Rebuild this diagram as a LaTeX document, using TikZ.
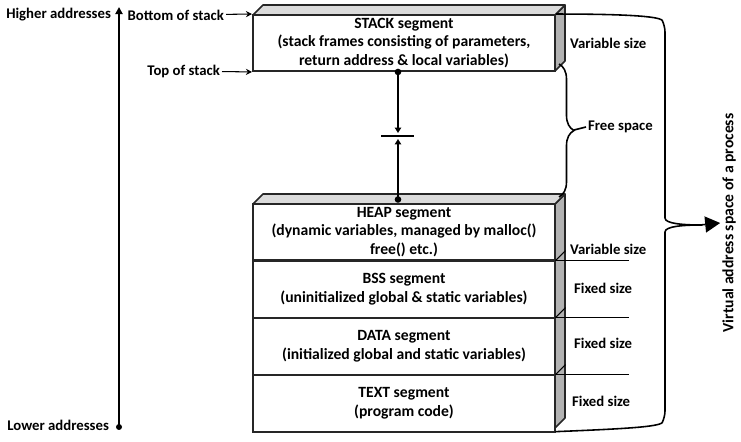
\documentclass[tikz,border=0pt]{standalone}
\usepackage{fontspec}
\setmainfont{Carlito}
\usetikzlibrary{positioning,arrows.meta,decorations.pathreplacing,calc}

\begin{document}
\begin{tikzpicture}[x=0.02cm,y=-0.02cm,
    font=\fontsize{8.4}{10.6}\selectfont\bfseries,
    seg/.style={inner sep=0pt,minimum width=6.04cm,minimum height=1.12cm,align=center,draw=black!85,line width=0.6pt,
      font=\fontsize{8.9}{10.6}\selectfont\bfseries},
    lbl/.style={inner sep=1pt},
    topface/.style={fill=black!14,draw=black!85,line width=0.9pt,line join=round},
    sideface/.style={fill=black!30,draw=black!85,line width=0.9pt,line join=round},
    frame/.style={draw=black!85,line width=1.1pt},
    ptr/.style={-{Stealth[length=3.5pt,width=3.5pt]},line width=0.6pt},
    pushptr/.style={-{Triangle[length=3pt,width=3.5pt]},line width=0.9pt,shorten >=0.06cm},
    bigbrace/.style={line width=0.9pt,rounded corners=0.12cm}]
  \useasboundingbox (0,0) rectangle (741,442);

  \draw[sideface] (555,15) -- ++(10,-10) -- ++(0,56) -- ++(-10,10) -- cycle;
  \draw[topface] (253,15) -- ++(10,-10) -- ++(302,0) -- ++(-10,10) -- cycle;
  \node[seg,frame] (stack) at (404,43) {STACK segment\\(stack frames consisting of parameters,\\return address \& local variables)};

  \draw[sideface] (555,204) -- ++(10,-10) -- ++(0,224) -- ++(-10,10) -- cycle;
  \draw[topface] (253,204) -- ++(10,-10) -- ++(302,0) -- ++(-10,10) -- cycle;
  \node[seg] (heap) at (404,232) {HEAP segment\\(dynamic variables, managed by malloc()\\free() etc.)};
  \node[seg,below=0pt of heap] (bss) {BSS segment\\(uninitialized global \& static variables)};
  \node[seg,below=0pt of bss] (data) {DATA segment\\(initialized global and static variables)};
  \node[seg,below=0pt of data] (text) {TEXT segment\\(program code)};
  \draw[frame] (heap.north west) rectangle (text.south east);
  \foreach \s in {heap,bss,data}{
    \draw[line width=0.6pt] (\s.south east) -- ++(10,-10);
    \draw[line width=0.6pt] (\s.south east) -- ++(73,0);
  }

  \node[lbl,anchor=west] (vs1) at (568,43) {Variable size};
  \node[lbl,anchor=west] (vs2) at (568,249) {Variable size};
  \node[lbl,anchor=west] (fs1) at (572,288) {Fixed size};
  \node[lbl,anchor=west] (fs2) at (572,343) {Fixed size};
  \node[lbl,anchor=west] (fs3) at (570,401) {Fixed size};

  \node[lbl,anchor=east] (hi) at (113,15) {Higher addresses};
  \node[lbl,anchor=east] (lo) at (111,425) {Lower addresses};
  \coordinate (atop) at (119,7);
  \coordinate (abot) at (119,427);
  \draw[-{Triangle[length=4pt,width=4pt]},line width=1.4pt] (abot) -- (atop);
  \fill (abot) circle (3);

  \node[lbl,anchor=east] (bos) at (226,15) {Bottom of stack};
  \node[lbl,anchor=east] (tos) at (222,71) {Top of stack};
  \draw[ptr] (bos) -- (stack.north west);
  \draw[ptr] (tos) -- (stack.south west);

  \coordinate (sdot) at ($(stack.south)+(-6,0)$);
  \coordinate (hdot) at ($(heap.north)+(-6,-4)$);
  \coordinate (gap) at (398,136);
  \draw[pushptr] (sdot) -- (gap);
  \draw[pushptr] (hdot) -- (gap);
  \draw[line width=0.9pt] ($(gap)+(-17,0)$) -- ($(gap)+(16,0)$);
  \fill (sdot) circle (3.3);
  \fill (hdot) circle (3.3);

  \draw[decorate,decoration={brace,amplitude=0.3cm},line width=0.9pt] (559,64) -- (559,197);
  \coordinate (fstip) at (574,130);
  \node[lbl,anchor=west] (free) at (586,127) {Free space};
  \draw[line width=0.9pt] (fstip) -- (free.west);

  \node[lbl,rotate=90,font=\fontsize{8.9}{10.6}\selectfont\bfseries] (vas) at (729,223) {Virtual address space of a process};
  \draw[bigbrace] (stack.north east) .. controls (620,14) and (660,16) .. (665,26) -- (665,212)
    .. controls (665,224) and (685,225) .. (702,225);
  \draw[bigbrace] (text.south east) .. controls (620,429) and (660,427) .. (665,417) -- (665,238)
    .. controls (665,226) and (685,225) .. (702,225);
  \draw[-{Triangle[length=0.3cm,width=0.32cm]},line width=0.9pt] (700,225) -- (vas.north);
\end{tikzpicture}
\end{document}
